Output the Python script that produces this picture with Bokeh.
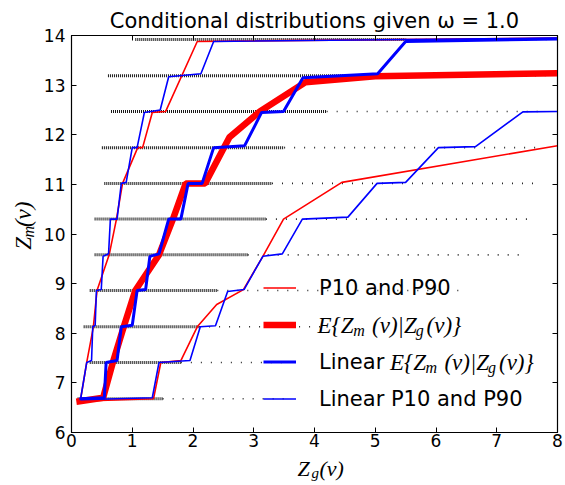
import math
from bokeh.plotting import figure
from bokeh.layouts import column, row
from bokeh.models import (Range1d, LinearAxis, FixedTicker, Legend, LegendItem, Label)
from bokeh.embed import file_html
from bokeh.resources import INLINE

# ---------------- data ----------------
x_ticks = [0, 1, 2, 3, 4, 5, 6, 7, 8]
y_ticks = [6, 7, 8, 9, 10, 11, 12, 13, 14]

# sample bands (Zm levels) and extent of the point clouds along Zg
band_y    = [6.68, 7.41, 8.13, 8.86, 9.58, 10.30, 11.02, 11.74, 12.47, 13.19, 13.92]
dense_lo  = [0.10, 0.30, 0.20, 0.30, 0.38, 0.38, 0.54, 0.50, 0.65, 0.60, 1.05]
dense_hi  = [1.50, 1.80, 2.10, 2.40, 2.90, 3.20, 3.30, 3.50, 4.20, 4.50, 5.50]
sparse_hi = [3.50, 3.60, 4.10, 6.40, 7.40, 7.50, 7.60, 7.70, 7.80, 7.80, 7.90]

# P10 / P90 (red, thin)
rp10_x = [0.15, 0.25, 0.36, 0.42, 0.62, 0.74, 0.84, 1.09, 1.17, 1.33, 1.55, 2.07, 8.00]
rp10_y = [6.67, 7.41, 8.13, 8.86, 9.58, 10.30, 11.02, 11.74, 11.74, 12.45, 12.47, 13.88, 13.95]
rp90_x = [0.10, 1.35, 1.47, 1.80, 2.07, 2.39, 2.83, 3.15, 3.49, 4.45, 8.00]
rp90_y = [6.63, 6.68, 7.41, 7.45, 8.13, 8.58, 8.88, 9.55, 10.30, 11.04, 11.78]

# E{Zm|Zg} (red, thick)
rE_x = [0.08, 0.52, 0.68, 0.86, 1.05, 1.44, 1.67, 1.88, 2.20, 2.60, 3.10, 3.85, 5.00, 8.00]
rE_y = [6.62, 6.70, 7.41, 8.13, 8.86, 9.58, 10.30, 11.02, 11.02, 11.95, 12.47, 13.06, 13.18, 13.24]

# Linear E{Zm|Zg} (blue, thick)
bE_x = [0.13, 0.54, 0.57, 0.75, 0.82, 1.00, 1.08, 1.22, 1.29, 1.44, 1.60, 1.80, 1.92, 2.15,
        2.34, 2.85, 3.13, 3.49, 3.81, 5.04, 5.50, 8.00]
bE_y = [6.68, 6.70, 7.41, 7.45, 8.13, 8.16, 8.86, 8.88, 9.55, 9.60, 10.30, 10.30, 11.02, 11.02,
        11.74, 11.78, 12.45, 12.47, 13.15, 13.23, 13.88, 13.93]

# Linear P10 / P90 (blue, thin)
bp10_x = [0.15, 0.25, 0.33, 0.35, 0.39, 0.41, 0.49, 0.52, 0.61, 0.64, 0.75, 0.82, 0.90, 1.00,
          1.08, 1.20, 1.46, 1.60, 2.13, 2.34, 8.00]
bp10_y = [6.68, 7.41, 7.45, 8.13, 8.16, 8.86, 8.88, 9.55, 9.60, 10.30, 10.30, 11.02, 11.04, 11.74,
          11.74, 12.45, 12.50, 13.17, 13.23, 13.88, 13.95]
bp90_x = [0.15, 1.33, 1.44, 1.95, 2.12, 2.37, 2.57, 2.84, 3.15, 3.47, 3.80, 4.55, 5.03, 5.50,
          6.04, 6.65, 7.43, 8.00]
bp90_y = [6.66, 6.70, 7.41, 7.45, 8.13, 8.15, 8.84, 8.88, 9.55, 9.60, 10.30, 10.34, 11.02, 11.04,
          11.74, 11.76, 12.46, 12.47]

title_text = "Conditional distributions given ω = 1.0"
legend_labels = ["P10 and P90", " ", "Linear ", "Linear P10 and P90"]

# ---------------- layout geometry (pixels) ----------------
W, H = 565, 485
YL_W = 40            # strip holding the y-axis label
MAIN_H = 456         # main figure height
XL_H = H - MAIN_H    # strip holding the x-axis label
FL, FR, FT, FB = 67, 557, 35, 432   # frame edges on the page

def dx(px):
    return (px - FL) / (FR - FL) * 8.0

def dy(py):
    return 6.0 + (FB - py) / (FB - FT) * 8.0

p = figure(width=W - YL_W, height=MAIN_H, x_range=Range1d(0, 8), y_range=Range1d(6, 14),
           output_backend="svg", toolbar_location=None,
           min_border_left=FL - YL_W, min_border_right=W - FR, min_border_top=FT,
           min_border_bottom=MAIN_H - FB)
p.xgrid.visible = False
p.ygrid.visible = False
p.outline_line_color = "black"
p.outline_line_width = 1.2
p.background_fill_color = "white"
p.border_fill_color = "white"

p.title.text = title_text
p.title.text_font = "DejaVu Sans"
p.title.text_font_size = "21px"
p.title.text_font_style = "normal"
p.title.text_color = "black"
p.title.align = "center"
p.title.standoff = 6

def style_axis(ax, ticks, show_labels=True, standoff=5):
    ax.ticker = FixedTicker(ticks=ticks)
    ax.major_tick_in = 5
    ax.major_tick_out = 0
    ax.minor_tick_in = 0
    ax.minor_tick_out = 0
    ax.axis_line_color = "black"
    ax.major_tick_line_color = "black"
    ax.major_label_text_font = "DejaVu Sans"
    ax.major_label_text_color = "black"
    ax.major_label_text_font_size = "17px"
    if show_labels:
        ax.major_label_standoff = standoff
    else:
        ax.major_label_overrides = {t: "" for t in ticks}
        ax.major_label_standoff = 0

style_axis(p.xaxis[0], x_ticks, True, 1)
style_axis(p.yaxis[0], y_ticks, True, 6)
top_ax = LinearAxis()
style_axis(top_ax, x_ticks, False)
p.add_layout(top_ax, "above")
right_ax = LinearAxis()
style_axis(right_ax, y_ticks, False)
p.add_layout(right_ax, "right")

# ---------------- point clouds ----------------
p.segment(x0=dense_lo, y0=band_y, x1=dense_hi, y1=band_y, line_color="black",
          line_width=3, line_dash="1 1", line_alpha=0.9)
p.segment(x0=dense_hi, y0=band_y, x1=sparse_hi, y1=band_y, line_color="black",
          line_width=1.6, line_dash="1 9", line_alpha=0.85)

# ---------------- lines ----------------
RED, BLUE = "#ff0000", "#0000ff"
r_thin = p.multi_line(xs=[rp10_x, rp90_x], ys=[rp10_y, rp90_y], line_color=RED, line_width=1.6)
r_thick = p.line(rE_x, rE_y, line_color=RED, line_width=6.5)
b_thick = p.line(bE_x, bE_y, line_color=BLUE, line_width=3)
b_thin = p.multi_line(xs=[bp10_x, bp90_x], ys=[bp10_y, bp90_y], line_color=BLUE, line_width=1.6)

legend = Legend(items=[LegendItem(label=legend_labels[0], renderers=[r_thin]),
                       LegendItem(label=legend_labels[1], renderers=[r_thick]),
                       LegendItem(label=legend_labels[2], renderers=[b_thick]),
                       LegendItem(label=legend_labels[3], renderers=[b_thin])],
                location=(259 - FL, 15), glyph_width=33, glyph_height=37, label_height=37,
                label_standoff=23, spacing=0, padding=0, margin=0,
                border_line_color=None, background_fill_alpha=0,
                label_text_font="DejaVu Sans", label_text_font_size="21px",
                label_text_color="black")
p.add_layout(legend)

# ---------------- math-like texts ----------------
MATH_FONT = "Liberation Serif"

def piece(fig, text, x, y, size, angle=0.0):
    fig.add_layout(Label(x=x, y=y, text=text, text_font=MATH_FONT,
                         text_font_style="italic", text_font_size=f"{size}px",
                         text_color="black", text_align="left", text_baseline="alphabetic",
                         angle=angle))

def expectation(x0, yc):
    piece(p, "E{Z", dx(x0), dy(yc + 1), 23)
    piece(p, "m", dx(x0 + 36), dy(yc + 6), 16)
    piece(p, "(v)|Z", dx(x0 + 55), dy(yc + 1), 23)
    piece(p, "g", dx(x0 + 99), dy(yc + 6), 16)
    piece(p, "(v)}", dx(x0 + 110), dy(yc + 1), 23)

expectation(315, 324)
expectation(388, 361)

def blank_fig(w, h):
    f = figure(width=w, height=h, x_range=Range1d(0, w), y_range=Range1d(0, h),
               output_backend="svg", toolbar_location=None,
               x_axis_type=None, y_axis_type=None, min_border=0,
               min_border_left=0, min_border_right=0, min_border_top=0, min_border_bottom=0)
    f.xgrid.visible = False
    f.ygrid.visible = False
    f.outline_line_color = None
    f.background_fill_color = "white"
    f.border_fill_color = "white"
    return f

# y axis label  Z_m(v)  (rotated), strip coordinates = page pixels, y up
yl = blank_fig(YL_W, MAIN_H)
A = math.pi / 2
piece(yl, "Z", 23, MAIN_H - 246, 23, A)
piece(yl, "m", 28, MAIN_H - 232, 16, A)
piece(yl, "(v)", 23, MAIN_H - 220, 23, A)

# x axis label  Z_g(v)
xl = blank_fig(W, XL_H)
piece(xl, "Z", 297, H - 468, 22)
piece(xl, "g", 311, H - 472, 15)
piece(xl, "(v)", 319, H - 468, 22)

layout = column(row(yl, p, spacing=0), xl, spacing=0)
open("out.html", "w").write(file_html(layout, INLINE))
